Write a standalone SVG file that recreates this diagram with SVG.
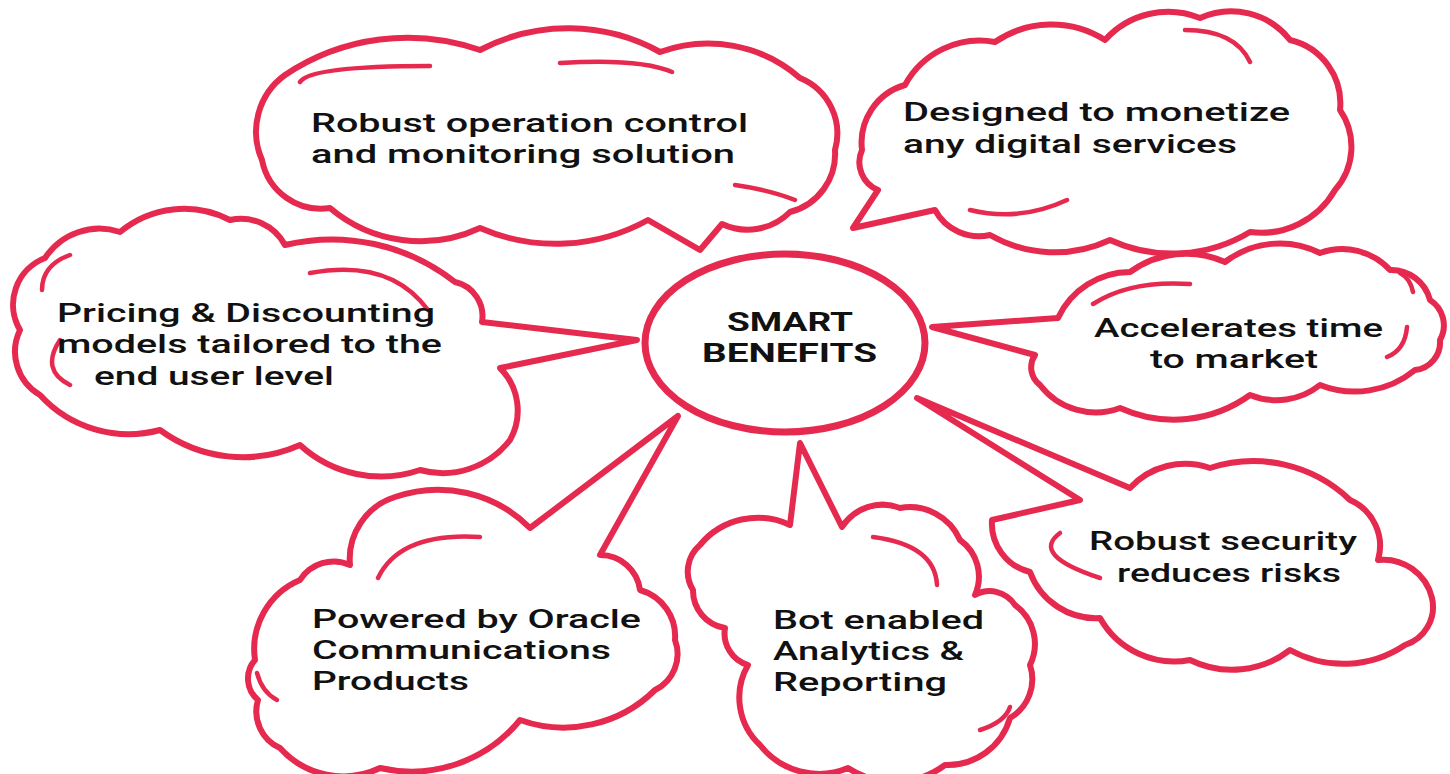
<svg xmlns="http://www.w3.org/2000/svg" width="1450" height="774" viewBox="0 0 1450 774">
<style>
.cloud{fill:#fff;stroke:#e5294f;stroke-width:6;stroke-linejoin:round;stroke-linecap:round}
.deco{fill:none;stroke:#e5294f;stroke-width:4.5;stroke-linecap:round}
.t{font-family:Roboto,"Liberation Sans",sans-serif;font-weight:500;font-size:26px;fill:#111}
.c{font-family:Roboto,"Liberation Sans",sans-serif;font-weight:700;font-size:25px;fill:#111}
</style>
<rect width="1450" height="774" fill="#fff"/>
<g id="cloud-operation">
<path class="cloud" d="M262,160 A70,70 0 0 1 285,75 A220,220 0 0 1 480,50 A190,190 0 0 1 660,52 A140,140 0 0 1 800,78 A60,60 0 0 1 835,150 A60,60 0 0 1 790,212 A60,60 0 0 1 722,224 L700,250 L648,220 A190,190 0 0 1 480,228 A140,140 0 0 1 330,208 A60,60 0 0 1 262,160 Z"/>
<path class="deco" d="M300,82 Q310,66 430,66 M560,63 Q640,58 672,72 M735,185 Q770,190 795,200"/>
<text class="t"><tspan x="311" y="132" textLength="437" lengthAdjust="spacingAndGlyphs">Robust operation control</tspan><tspan x="311" y="163" textLength="424" lengthAdjust="spacingAndGlyphs">and monitoring solution</tspan></text>
</g>
<g id="cloud-monetize">
<path class="cloud" d="M862,150 A60,60 0 0 1 905,85 A85,85 0 0 1 995,42 A100,100 0 0 1 1105,40 A85,85 0 0 1 1200,18 A75,75 0 0 1 1290,40 A65,65 0 0 1 1340,110 A65,65 0 0 1 1335,190 A85,85 0 0 1 1250,232 A150,150 0 0 1 1110,240 A130,130 0 0 1 990,235 A50,50 0 0 1 935,210 L853,228 L878,190 A30,30 0 0 1 862,150 Z"/>
<path class="deco" d="M1185,30 Q1235,30 1250,62 M970,210 Q1020,222 1067,200"/>
<text class="t"><tspan x="903" y="121" textLength="387" lengthAdjust="spacingAndGlyphs">Designed to monetize</tspan><tspan x="903" y="153" textLength="334" lengthAdjust="spacingAndGlyphs">any digital services</tspan></text>
</g>
<g id="cloud-pricing">
<path class="cloud" d="M20,330 A50,50 0 0 1 45,258 A65,65 0 0 1 120,232 A100,100 0 0 1 230,220 A50,50 0 0 1 285,245 A200,200 0 0 1 455,282 A35,35 0 0 1 482,322 L637,340 L500,368 A60,60 0 0 1 510,440 A85,85 0 0 1 420,470 A120,120 0 0 1 300,445 A140,140 0 0 1 160,430 A120,120 0 0 1 40,395 A50,50 0 0 1 20,330 Z"/>
<path class="deco" d="M310,273 Q390,258 428,310 M70,255 Q42,265 42,290 M60,340 Q40,370 70,385"/>
<text class="t"><tspan x="57" y="322" textLength="378" lengthAdjust="spacingAndGlyphs">Pricing &amp; Discounting</tspan><tspan x="57" y="353" textLength="385" lengthAdjust="spacingAndGlyphs">models tailored to the</tspan><tspan x="94" y="385" textLength="240" lengthAdjust="spacingAndGlyphs">end user level</tspan></text>
</g>
<g id="cloud-accelerates">
<path class="cloud" d="M1035,355 L932,327 L1058,318 A80,80 0 0 1 1130,272 A95,95 0 0 1 1225,262 A90,90 0 0 1 1320,253 A65,65 0 0 1 1390,270 A40,40 0 0 1 1430,300 A30,30 0 0 1 1440,340 A28,28 0 0 1 1415,370 A95,95 0 0 1 1320,385 A70,70 0 0 1 1250,395 A130,130 0 0 1 1120,408 A70,70 0 0 1 1040,385 A22,22 0 0 1 1035,355 Z"/>
<path class="deco" d="M1093,304 Q1130,280 1190,284 M1400,273 Q1410,278 1413,292 M1387,357 Q1405,350 1407,327"/>
<text class="t"><tspan x="1094" y="337" textLength="289" lengthAdjust="spacingAndGlyphs">Accelerates time</tspan><tspan x="1150" y="368" textLength="168" lengthAdjust="spacingAndGlyphs">to market</tspan></text>
</g>
<g id="cloud-security">
<path class="cloud" d="M992,520 L1080,500 L917,398 L1130,488 A75,75 0 0 1 1210,468 A140,140 0 0 1 1350,500 A50,50 0 0 1 1378,560 A50,50 0 0 1 1432,598 A40,40 0 0 1 1405,645 A110,110 0 0 1 1290,650 A95,95 0 0 1 1190,660 A85,85 0 0 1 1100,618 A70,70 0 0 1 1030,572 A50,50 0 0 1 992,520 Z"/>
<path class="deco" d="M1060,533 Q1030,555 1100,578"/>
<text class="t"><tspan x="1089" y="550" textLength="268" lengthAdjust="spacingAndGlyphs">Robust security</tspan><tspan x="1117" y="582" textLength="224" lengthAdjust="spacingAndGlyphs">reduces risks</tspan></text>
</g>
<g id="cloud-oracle">
<path class="cloud" d="M255,660 A75,75 0 0 1 300,580 A40,40 0 0 1 350,565 A65,65 0 0 1 395,497 A130,130 0 0 1 530,528 L678,416 L600,555 A40,40 0 0 1 640,590 A48,48 0 0 1 675,640 A40,40 0 0 1 655,690 A130,130 0 0 1 520,720 A140,140 0 0 1 380,768 A85,85 0 0 1 280,748 A40,40 0 0 1 258,700 A28,28 0 0 1 255,660 Z"/>
<path class="deco" d="M378,578 Q400,532 480,537 M257,673 Q262,692 277,700"/>
<text class="t"><tspan x="312" y="628" textLength="329" lengthAdjust="spacingAndGlyphs">Powered by Oracle</tspan><tspan x="312" y="659" textLength="299" lengthAdjust="spacingAndGlyphs">Communications</tspan><tspan x="312" y="690" textLength="157" lengthAdjust="spacingAndGlyphs">Products</tspan></text>
</g>
<g id="cloud-bot">
<path class="cloud" d="M693,590 A35,35 0 0 1 700,545 A75,75 0 0 1 790,525 L800,443 L842,527 A48,48 0 0 1 900,508 A55,55 0 0 1 960,540 A45,45 0 0 1 975,595 A30,30 0 0 1 1015,605 A48,48 0 0 1 1030,665 A45,45 0 0 1 1010,718 A65,65 0 0 1 945,765 A85,85 0 0 1 848,768 A75,75 0 0 1 760,745 A65,65 0 0 1 748,665 A33,33 0 0 1 725,628 A38,38 0 0 1 693,590 Z"/>
<path class="deco" d="M873,537 Q935,545 937,585 M980,730 Q1005,722 1010,707"/>
<text class="t"><tspan x="773" y="629" textLength="211" lengthAdjust="spacingAndGlyphs">Bot enabled</tspan><tspan x="773" y="660" textLength="191" lengthAdjust="spacingAndGlyphs">Analytics &amp;</tspan><tspan x="773" y="691" textLength="174" lengthAdjust="spacingAndGlyphs">Reporting</tspan></text>
</g>
<g id="center">
<ellipse cx="785" cy="343" rx="140" ry="89" fill="#fff" stroke="#e5294f" stroke-width="7"/>
<text class="c"><tspan x="727" y="331" textLength="126" lengthAdjust="spacingAndGlyphs">SMART</tspan><tspan x="702" y="362" textLength="175" lengthAdjust="spacingAndGlyphs">BENEFITS</tspan></text>
</g>
<g id="connectors"></g>
</svg>
